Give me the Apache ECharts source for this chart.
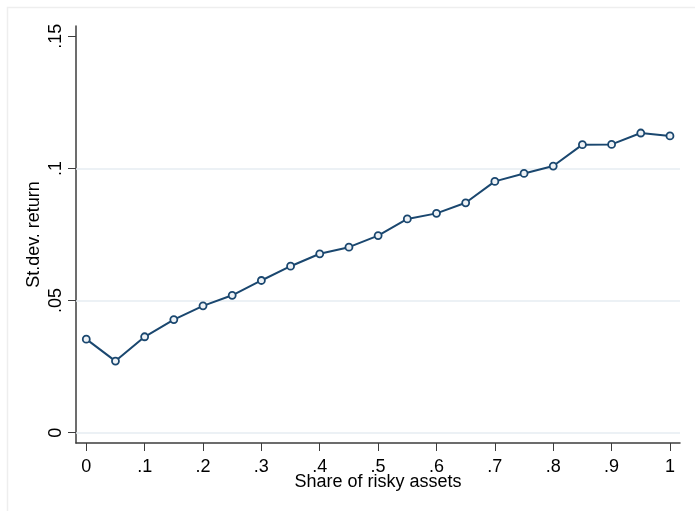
<!DOCTYPE html>
<html>
<head>
<meta charset="utf-8">
<script src="https://cdn.jsdelivr.net/npm/echarts@6/dist/echarts.min.js"></script>
<style>
  html, body { margin: 0; padding: 0; background: #fff; }
  #chart { width: 695px; height: 511px; }
</style>
</head>
<body>
<div id="chart"></div>
<script>
// Share of risky assets in the portfolio and the resulting std. dev. of return
const shares = [0, 0.05, 0.1, 0.15, 0.2, 0.25, 0.3, 0.35, 0.4, 0.45, 0.5,
                0.55, 0.6, 0.65, 0.7, 0.75, 0.8, 0.85, 0.9, 0.95, 1];
const stdevs = [0.0354, 0.0271, 0.0363, 0.0428, 0.0480, 0.0520, 0.0576, 0.0630, 0.0677, 0.0702, 0.0746,
                0.0809, 0.0830, 0.0870, 0.0951, 0.0981, 0.1009, 0.1090, 0.1091, 0.1134, 0.1123];

const xTicks = [0, 0.1, 0.2, 0.3, 0.4, 0.5, 0.6, 0.7, 0.8, 0.9, 1];
const yTicks = [0, 0.05, 0.1, 0.15];
const yGrid = [0, 0.05, 0.1];

// Stata-style numbers: drop the leading zero (".05", ".1")
function fmt(v) {
  const s = String(Math.round(v * 1000) / 1000);
  return s.startsWith('0.') ? s.slice(1) : s;
}

const navy = '#1a476f';
const axisColor = '#3c3c3c';
const font = 'Liberation Sans, Arial, sans-serif';
const fs = 18;

const chart = echarts.init(document.getElementById('chart'), null, { renderer: 'canvas' });
chart.setOption({
  backgroundColor: '#fff',
  animation: false,
  graphic: [{
    type: 'polyline',
    silent: true,
    shape: { points: [[7.5, 511], [7.5, 7.5], [695, 7.5]] },
    style: { fill: 'none', stroke: '#eeeeee', lineWidth: 1.5 }
  }],
  grid: { left: 76, right: 15, top: 26, bottom: 68 },
  xAxis: {
    type: 'value',
    min: -0.0176,
    max: 1.0172,
    name: 'Share of risky assets',
    nameLocation: 'middle',
    nameMoveOverlap: false,
    nameGap: 30,
    nameTextStyle: { fontFamily: font, fontSize: fs, color: '#000' },
    axisLine: { show: true, onZero: false, lineStyle: { color: axisColor, width: 1.5 } },
    axisTick: { show: true, customValues: xTicks, length: 8, lineStyle: { color: axisColor, width: 1 } },
    axisLabel: { customValues: xTicks, formatter: fmt, margin: 15,
                 fontFamily: font, fontSize: fs, color: '#000' },
    splitLine: { show: false }
  },
  yAxis: {
    type: 'value',
    min: -0.0039,
    max: 0.1539,
    name: 'St.dev. return',
    nameLocation: 'middle',
    nameMoveOverlap: false,
    nameRotate: 90,
    nameGap: 33,
    nameTextStyle: { fontFamily: font, fontSize: fs, color: '#000' },
    axisLine: { show: true, onZero: false, lineStyle: { color: axisColor, width: 1.5 } },
    axisTick: { show: true, customValues: yTicks, length: 8, lineStyle: { color: axisColor, width: 1 } },
    axisLabel: { customValues: yTicks, formatter: fmt, rotate: 90, margin: 11,
                 fontFamily: font, fontSize: fs, color: '#000' },
    splitLine: { show: false }
  },
  series: [{
    type: 'line',
    data: shares.map((s, i) => [s, stdevs[i]]),
    symbol: 'circle',
    symbolSize: 7,
    showAllSymbol: true,
    lineStyle: { color: navy, width: 2 },
    itemStyle: { color: '#eef2f6', borderColor: navy, borderWidth: 1.8 },
    z: 3,
    // horizontal grid lines, drawn beneath the data line
    markLine: {
      z: 1,
      silent: true,
      symbol: 'none',
      label: { show: false },
      lineStyle: { color: '#e6edf2', width: 1.5, type: 'solid' },
      data: yGrid.map(v => ({ yAxis: v }))
    }
  }]
});
</script>
</body>
</html>
